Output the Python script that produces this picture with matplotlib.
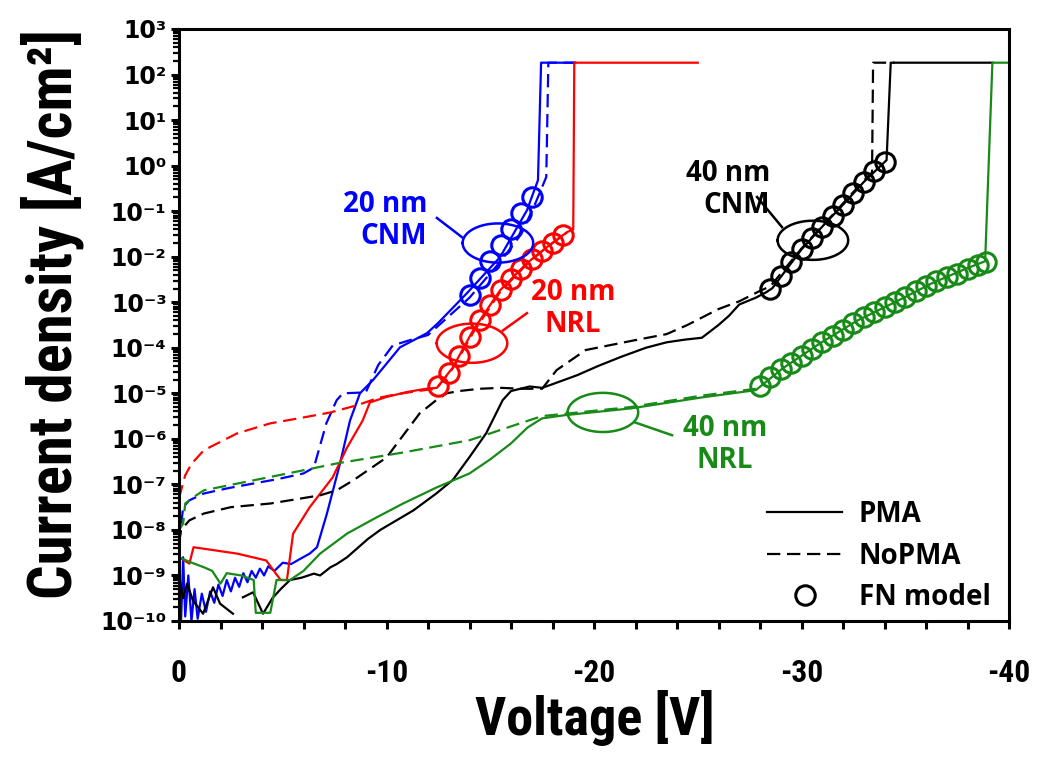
import numpy as np
import matplotlib
matplotlib.use("Agg")
import matplotlib.pyplot as plt
from matplotlib import font_manager
from matplotlib.lines import Line2D
from matplotlib.ticker import FixedLocator, LogLocator, FuncFormatter, NullFormatter

# шрифти: вузький (якщо є) для осей, ширший для підписів кривих
installed = {f.name for f in font_manager.fontManager.ttflist}
axis_font = next((f for f in ["Liberation Sans Narrow", "Roboto Condensed", "DejaVu Sans Condensed"]
                  if f in installed), "Open Sans")
note_font = "Open Sans"

nan = np.nan

# ---- дані: (напруга, log10 J) ----
# 20 nm CNM (синій)
cnm20_pma = [(0.0, -8.7), (-0.1, -10.0), (-0.2, -8.6), (-0.3, -9.9), (-0.45, -9.0), (-0.6, -10.0),
             (-0.75, -9.3), (-0.9, -9.95), (-1.1, -9.4), (-1.3, -9.8), (-1.5, -9.35), (-1.7, -9.6),
             (-1.9, -9.2), (-2.1, -9.45), (-2.3, -9.1), (-2.5, -9.35), (-2.7, -9.05), (-2.9, -9.25),
             (-3.1, -8.95), (-3.3, -9.15), (-3.5, -8.9), (-3.7, -9.05), (-3.9, -8.85), (-4.1, -9.0),
             (-4.3, -8.8), (-4.6, -8.9), (-5.0, -8.72), (-5.4, -8.75), (-5.9, -8.62), (-6.3, -8.52),
             (-6.65, -8.38), (-7.13, -7.64), (-7.76, -6.54), (-8.24, -5.6), (-8.72, -5.0),
             (-9.35, -4.71), (-10.65, -3.99), (-11.95, -3.68), (-12.5, -3.45), (-13.88, -2.80),
             (-15.47, -2.01), (-16.77, -0.98), (-17.3, -0.32), (-17.45, 2.26), (-19.1, 2.26)]
cnm20_nopma = [(0.0, -8.3), (-0.1, -7.9), (-0.2, -7.5), (-0.5, -7.35), (-1.2, -7.2), (-2.4, -7.08),
               (-3.6, -6.98), (-4.8, -6.88), (-6.0, -6.76), (-6.5, -6.63), (-7.1, -5.66),
               (-7.6, -5.15), (-7.9, -5.0), (-9.0, -4.98), (-9.6, -4.38), (-10.3, -3.95),
               (-11.0, -3.85), (-12.0, -3.72), (-14.0, -2.9), (-15.5, -2.1), (-16.5, -1.5),
               (-17.2, -0.8), (-17.7, -0.25), (-17.8, 2.26), (-19.1, 2.26)]
cnm20_fn = [(-14.0, -2.85), (-14.5, -2.47), (-15.0, -2.1), (-15.5, -1.75), (-16.0, -1.4),
            (-16.5, -1.05), (-17.0, -0.7)]

# 20 nm NRL (червоний)
nrl20_pma = [(0.0, -8.6), (-0.5, -8.74), (-0.7, -8.38), (-2.8, -8.52), (-4.2, -8.67), (-4.9, -9.1),
             (-5.2, -9.1), (-5.5, -8.08), (-6.3, -7.5), (-7.4, -6.85), (-8.1, -6.19), (-8.85, -5.6),
             (-9.2, -5.2), (-10.0, -5.08), (-11.0, -4.97), (-11.9, -4.9), (-12.43, -4.88),
             (-13.2, -4.43), (-14.17, -3.62), (-15.47, -2.74), (-16.77, -2.14), (-17.73, -1.79),
             (-18.7, -1.46), (-19.0, -1.4), (-19.05, 2.26), (-25.0, 2.26)]
nrl20_nopma = [(0.0, -7.3), (-0.3, -6.8), (-0.6, -6.55), (-1.2, -6.25), (-2.8, -5.88), (-4.4, -5.66),
               (-6.0, -5.53), (-7.3, -5.42), (-8.6, -5.26), (-9.6, -5.1), (-10.5, -5.02),
               (-11.5, -4.95), (-12.4, -4.9), (-13.2, -4.45), (-14.2, -3.65), (-15.5, -2.76),
               (-16.8, -2.15), (-17.7, -1.8), (-18.7, -1.47)]
nrl20_fn = [(-12.5, -4.84), (-13.0, -4.55), (-13.5, -4.18), (-14.0, -3.76), (-14.5, -3.40),
            (-15.0, -3.06), (-15.5, -2.73), (-16.0, -2.50), (-16.5, -2.27), (-17.0, -2.06),
            (-17.5, -1.87), (-18.0, -1.70), (-18.5, -1.53)]

# 40 nm CNM (чорний)
cnm40_pma = [(0.0, -9.0), (-0.2, -9.5), (-0.39, -9.18), (-0.67, -9.55), (-1.16, -9.84), (-1.64, -9.26),
             (-1.98, -9.62), (-2.6, -9.84), (-2.8, nan), (-3.08, -9.48), (-3.57, -9.37),
             (-4.05, -9.84), (-4.5, -9.5), (-4.9, -9.3), (-5.35, -9.1), (-5.9, -9.05), (-6.5, -8.96),
             (-6.8, -9.0), (-7.3, -8.82), (-7.6, -8.75), (-8.1, -8.6), (-9.1, -8.2), (-9.7, -8.0),
             (-11.3, -7.57), (-12.4, -7.2), (-13.2, -6.9), (-14.0, -6.4), (-14.8, -5.88),
             (-15.6, -5.15), (-16.0, -4.95), (-16.9, -4.85), (-17.5, -4.88), (-18.0, -4.8),
             (-19.2, -4.6), (-20.2, -4.4), (-21.3, -4.2), (-22.5, -4.0), (-23.5, -3.88),
             (-24.4, -3.82), (-25.2, -3.78), (-26.0, -3.5), (-26.5, -3.3), (-27.0, -3.05),
             (-27.8, -2.9), (-28.3, -2.78), (-28.6, -2.69), (-30.0, -1.84), (-31.0, -1.34),
             (-32.0, -0.86), (-33.0, -0.36), (-34.1, 0.12), (-34.3, 2.26), (-39.2, 2.26)]
cnm40_nopma = [(0.0, -8.3), (-0.1, -8.0), (-0.5, -7.79), (-1.2, -7.64), (-2.5, -7.5), (-4.4, -7.42),
               (-6.8, -7.24), (-7.6, -7.13), (-8.4, -6.91), (-10.0, -6.41), (-11.6, -5.44),
               (-12.4, -5.15), (-12.9, -5.0), (-13.5, -4.95), (-14.5, -4.9), (-15.5, -4.88),
               (-16.5, -4.9), (-17.5, -4.9), (-18.2, -4.49), (-19.6, -4.05), (-21.9, -3.84),
               (-23.5, -3.7), (-24.5, -3.5), (-26.0, -3.15), (-27.0, -2.98), (-28.0, -2.75),
               (-28.5, -2.65), (-30.0, -1.82), (-31.5, -1.08), (-33.0, -0.33), (-33.4, -0.15),
               (-33.45, 2.26), (-34.5, 2.26)]
cnm40_fn = [(-28.5, -2.72), (-29.0, -2.42), (-29.5, -2.12), (-30.0, -1.84), (-30.5, -1.58),
            (-31.0, -1.34), (-31.5, -1.10), (-32.0, -0.86), (-32.5, -0.60), (-33.0, -0.36),
            (-33.5, -0.12), (-34.0, 0.07)]

# 40 nm NRL (зелений)
nrl40_pma = [(0.0, -8.6), (-0.5, -8.7), (-1.2, -8.82), (-1.6, -8.9), (-2.0, -9.18), (-2.3, -8.95),
             (-3.0, -9.0), (-3.6, -9.1), (-3.7, -9.82), (-4.4, -9.82), (-4.7, -9.1), (-5.35, -9.1),
             (-6.0, -8.9), (-6.8, -8.52), (-8.1, -8.08), (-9.5, -7.73), (-10.8, -7.42),
             (-12.4, -7.07), (-14.0, -6.76), (-15.0, -6.45), (-16.0, -6.1), (-16.8, -5.75),
             (-17.5, -5.55), (-18.6, -5.48), (-21.8, -5.33), (-25.2, -5.09), (-27.8, -4.93),
             (-29.1, -4.45), (-30.9, -3.9), (-32.7, -3.4), (-34.5, -3.0), (-36.3, -2.58),
             (-38.0, -2.25), (-38.85, -2.1), (-39.2, 2.26), (-40.0, 2.26)]
nrl40_nopma = [(0.0, -8.0), (-0.2, -7.86), (-0.3, -7.42), (-0.8, -7.25), (-1.2, -7.13), (-3.6, -6.91),
               (-6.0, -6.69), (-7.6, -6.54), (-10.8, -6.3), (-14.0, -6.03), (-15.0, -5.88),
               (-16.5, -5.65), (-17.5, -5.5), (-18.6, -5.45), (-21.8, -5.3), (-25.2, -5.05),
               (-27.8, -4.9)]
nrl40_fn = [(-28.0, -4.85), (-28.5, -4.65), (-29.0, -4.47), (-29.5, -4.33), (-30.0, -4.18),
            (-30.5, -4.02), (-31.0, -3.88), (-31.5, -3.75), (-32.0, -3.61), (-32.5, -3.46),
            (-33.0, -3.32), (-33.5, -3.21), (-34.0, -3.10), (-34.5, -3.00), (-35.0, -2.88),
            (-35.5, -2.76), (-36.0, -2.65), (-36.5, -2.54), (-37.0, -2.45), (-37.5, -2.37),
            (-38.0, -2.28), (-38.5, -2.18), (-38.9, -2.12)]

blue, red, black, green = "#0000ff", "#ff0000", "#000000", "#178a17"
dash = (0, (6, 3))

fig = plt.figure(figsize=(10.4, 7.65), dpi=100)
ax = fig.add_axes([179 / 1040, 1 - 621 / 765, 830 / 1040, 592 / 765])


def curve(pairs, color, ls):
    v, lj = np.array(pairs).T
    ax.plot(v, 10.0 ** lj, color=color, ls=ls, lw=1.6)


def fn_points(pairs, color):
    v, lj = np.array(pairs).T
    ax.plot(v, 10.0 ** lj, "o", mfc="none", mec=color, ms=14, mew=2.2)


for pma, nopma, color in [(cnm20_pma, cnm20_nopma, blue), (nrl20_pma, nrl20_nopma, red),
                          (cnm40_pma, cnm40_nopma, black), (nrl40_pma, nrl40_nopma, green)]:
    curve(nopma, color, dash)
    curve(pma, color, "-")

for pts, color in [(cnm20_fn, blue), (nrl20_fn, red), (cnm40_fn, black), (nrl40_fn, green)]:
    fn_points(pts, color)

# еліпси-виноски з підписами
t = np.linspace(0, 2 * np.pi, 120)
notes = [
    (blue, (-15.37, -1.70), ((-13.69, -1.59), (-12.43, -1.15)), (-11.95, -1.20), "right", "20 nm\nCNM"),
    (red, (-14.12, -3.90), ((-15.61, -3.62), (-16.77, -3.24)), (-18.99, -3.13), "center", "20 nm\nNRL"),
    (black, (-30.55, -1.64), ((-29.06, -1.35), (-27.86, -0.69)), (-28.48, -0.52), "right", "40 nm\nCNM"),
    (green, (-20.43, -5.42), ((-21.98, -5.64), (-23.76, -5.92)), (-26.31, -6.12), "center", "40 nm\nNRL"),
]
for color, (cv, cl), (p0, p1), (tv, tl), ha, txt in notes:
    ax.plot(cv + 1.7 * np.cos(t), 10.0 ** (cl + 0.43 * np.sin(t)), color=color, lw=1.8)
    ax.plot([p0[0], p1[0]], [10.0 ** p0[1], 10.0 ** p1[1]], color=color, lw=1.8)
    ax.text(tv, 10.0 ** tl, txt, color=color, ha=ha, va="center", multialignment=ha,
            fontsize=20, fontweight="bold", family=note_font, linespacing=1.15)

# осі
ax.set_xlim(0, -40)
ax.set_yscale("log")
ax.set_ylim(1e-10, 1e3)

ax.xaxis.set_major_locator(FixedLocator([0, -10, -20, -30, -40]))
ax.xaxis.set_minor_locator(FixedLocator(np.arange(0, -41, -2)))
ax.xaxis.set_major_formatter(FuncFormatter(lambda x, p: f"{int(round(x))}"))

sup = str.maketrans("-0123456789", "\u207b\u2070\u00b9\u00b2\u00b3\u2074\u2075\u2076\u2077\u2078\u2079")
ax.yaxis.set_major_locator(LogLocator(base=10, numticks=30))
ax.yaxis.set_minor_locator(LogLocator(base=10, subs=np.arange(2, 10), numticks=30))
ax.yaxis.set_major_formatter(FuncFormatter(lambda y, p: "10" + str(int(round(np.log10(y)))).translate(sup)))
ax.yaxis.set_minor_formatter(NullFormatter())

ax.tick_params(axis="x", which="both", direction="out", length=6, width=2.2, pad=21)
ax.tick_params(axis="y", which="major", direction="out", length=6, width=2.2, pad=3)
ax.tick_params(axis="y", which="minor", direction="out", length=4, width=1.6)
for s in ax.spines.values():
    s.set_linewidth(2.2)

ax.set_xlabel("Voltage [V]", fontsize=32, fontweight="bold", family=axis_font)
ax.xaxis.set_label_coords(0.501, -0.164)
ax.xaxis.label.set_verticalalignment("center")
ax.set_ylabel("Current density [A/cm\u00b2]", fontsize=34, fontweight="bold", family=axis_font)
ax.yaxis.set_label_coords(-0.153, 0.519)
ax.yaxis.label.set_verticalalignment("center")

# підгонка розміру підписів осей під ширину на оригіналі
fig.canvas.draw()
r = fig.canvas.get_renderer()
xfs = 32 * 240 / ax.xaxis.label.get_window_extent(r).width
yfs = 34 * 570 / ax.yaxis.label.get_window_extent(r).height
ax.xaxis.label.set_fontsize(xfs)
ax.yaxis.label.set_fontsize(yfs)

for lab in ax.get_xticklabels():
    lab.set_fontsize(xfs * 0.58)
    lab.set_fontweight("bold")
    lab.set_family(axis_font)
for lab in ax.get_yticklabels():
    lab.set_fontsize(17)
    lab.set_fontweight("bold")
    lab.set_family("DejaVu Sans")

handles = [Line2D([], [], color="black", lw=1.6),
           Line2D([], [], color="black", lw=1.6, ls=dash),
           Line2D([], [], ls="none", marker="o", mfc="none", mec="black", ms=14, mew=2.2)]
ax.legend(handles, ["PMA", "NoPMA", "FN model"], loc="lower right", bbox_to_anchor=(0.978, 0.015),
          frameon=False, borderpad=0, borderaxespad=0, handlelength=2.7, handletextpad=0.6,
          labelspacing=0.45, prop={"family": note_font, "weight": "bold", "size": 20})

fig.savefig("out.png", dpi=100)
